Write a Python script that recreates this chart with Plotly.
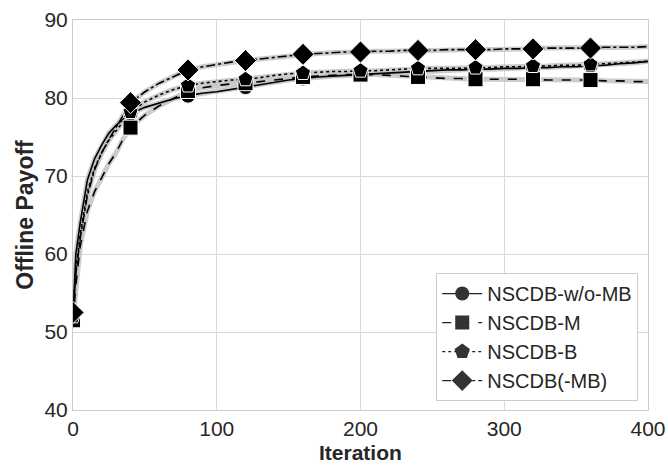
import plotly.graph_objects as go

iterations = [0, 2, 5, 10, 15, 20, 25, 30, 35, 40, 50, 60, 70, 80, 90, 100, 110, 120, 130, 140, 150,
              160, 170, 180, 190, 200, 210, 220, 230, 240, 250, 260, 270, 280, 290, 300, 310, 320,
              330, 340, 350, 360, 370, 380, 390, 400]

wo_mb = [52.0, 60.0, 64.0, 69.5, 72.2, 74.0, 75.5, 76.5, 77.3, 78.0, 78.8, 79.4, 79.9, 80.3, 80.6,
         80.8, 81.1, 81.4, 81.7, 82.0, 82.3, 82.5, 82.7, 82.8, 82.9, 83.0, 83.1, 83.2, 83.3, 83.4,
         83.5, 83.6, 83.6, 83.7, 83.7, 83.8, 83.8, 83.9, 83.9, 84.0, 84.0, 84.1, 84.2, 84.4, 84.5, 84.7]
m_only = [51.5, 56.0, 61.0, 65.5, 68.0, 69.8, 71.6, 73.0, 74.8, 76.2, 77.8, 79.0, 80.0, 80.9, 81.3,
          81.6, 81.8, 81.9, 82.1, 82.3, 82.5, 82.7, 82.8, 82.9, 83.0, 83.0, 83.0, 82.9, 82.8, 82.7,
          82.6, 82.5, 82.5, 82.4, 82.4, 82.4, 82.4, 82.4, 82.3, 82.3, 82.3, 82.3, 82.2, 82.2, 82.1, 82.1]
b_only = [52.0, 58.0, 62.5, 68.0, 71.0, 73.0, 74.6, 75.8, 77.0, 78.2, 79.5, 80.4, 81.1, 81.6, 81.9,
          82.1, 82.3, 82.4, 82.6, 82.9, 83.1, 83.2, 83.3, 83.4, 83.4, 83.5, 83.5, 83.6, 83.7, 83.8,
          83.8, 83.8, 83.8, 83.9, 83.9, 84.0, 84.0, 84.1, 84.1, 84.2, 84.2, 84.3, 84.4, 84.5, 84.6, 84.7]
full_mb = [52.5, 57.5, 62.0, 67.5, 70.8, 73.0, 74.7, 76.2, 77.8, 79.4, 80.8, 81.9, 82.8, 83.6, 84.0,
           84.3, 84.6, 84.8, 85.0, 85.2, 85.4, 85.6, 85.7, 85.8, 85.9, 85.9, 86.0, 86.0, 86.1, 86.1,
           86.1, 86.2, 86.2, 86.2, 86.2, 86.3, 86.3, 86.3, 86.4, 86.4, 86.4, 86.4, 86.5, 86.5, 86.5, 86.6]

series_names = ["NSCDB-w/o-MB", "NSCDB-M", "NSCDB-B", "NSCDB(-MB)"]
series_values = [wo_mb, m_only, b_only, full_mb]
dashes = ["solid", "dash", "dot", "dashdot"]
symbols = ["circle", "square", "pentagon", "diamond"]
sizes = [15, 15, 16, 17]
legend_sizes = [14, 14, 16, 18]
marker_every = 40

fig = go.Figure()

# halos (light grey band around each curve)
for vals in series_values:
    fig.add_trace(go.Scatter(x=iterations, y=vals, mode="lines",
                             line=dict(color="rgba(195,195,195,0.85)", width=5),
                             showlegend=False, hoverinfo="skip"))
# lines
for vals, d in zip(series_values, dashes):
    fig.add_trace(go.Scatter(x=iterations, y=vals, mode="lines",
                             line=dict(color="black", width=1.6, dash=d),
                             showlegend=False))
# markers every 40 iterations
for vals, s, sz in zip(series_values, symbols, sizes):
    mx = [it for it in iterations if it % marker_every == 0 and it < 400]
    my = [v for it, v in zip(iterations, vals) if it % marker_every == 0 and it < 400]
    fig.add_trace(go.Scatter(x=mx, y=my, mode="markers",
                             marker=dict(symbol=s, size=sz, color="black",
                                         line=dict(color="white", width=1)),
                             showlegend=False))
# legend entries
for name, d, s, lsz in zip(series_names, dashes, symbols, legend_sizes):
    fig.add_trace(go.Scatter(x=[None], y=[None], mode="lines+markers", name=name,
                             line=dict(color="#222222", width=1.2, dash=d),
                             marker=dict(symbol=s, size=lsz, color="#333333")))

font_family = "Liberation Sans, Arial, sans-serif"
axis_common = dict(showgrid=True, gridcolor="#d9d9d9", gridwidth=1, zeroline=False,
                   showline=True, linecolor="#cccccc", linewidth=1, mirror=True, automargin=False,
                   ticks="", tickfont=dict(size=21, color="#262626", family=font_family))

fig.update_layout(
    width=668, height=467,
    margin=dict(l=73, r=20, t=20, b=57),
    plot_bgcolor="white", paper_bgcolor="white",
    font=dict(family=font_family, color="#262626"),
    xaxis=dict(range=[0, 400], tickvals=[0, 100, 200, 300, 400], **axis_common),
    yaxis=dict(range=[40, 90], tickvals=[40, 50, 60, 70, 80, 90],
               title=dict(text="<b>Offline Payoff</b>", font=dict(size=23), standoff=4), **axis_common),
    legend=dict(x=0.983, y=0.023, xanchor="right", yanchor="bottom",
                bgcolor="white", bordercolor="#cccccc", borderwidth=1,
                font=dict(size=20, color="#262626"), itemwidth=40, tracegroupgap=0),
    annotations=[dict(text="<b>Iteration</b>", xref="paper", yref="paper", x=0.5, y=-0.11,
                      xanchor="center", yanchor="middle", showarrow=False, borderpad=0,
                      font=dict(size=21, color="#262626", family=font_family))],
)

fig.write_html("out.html")
